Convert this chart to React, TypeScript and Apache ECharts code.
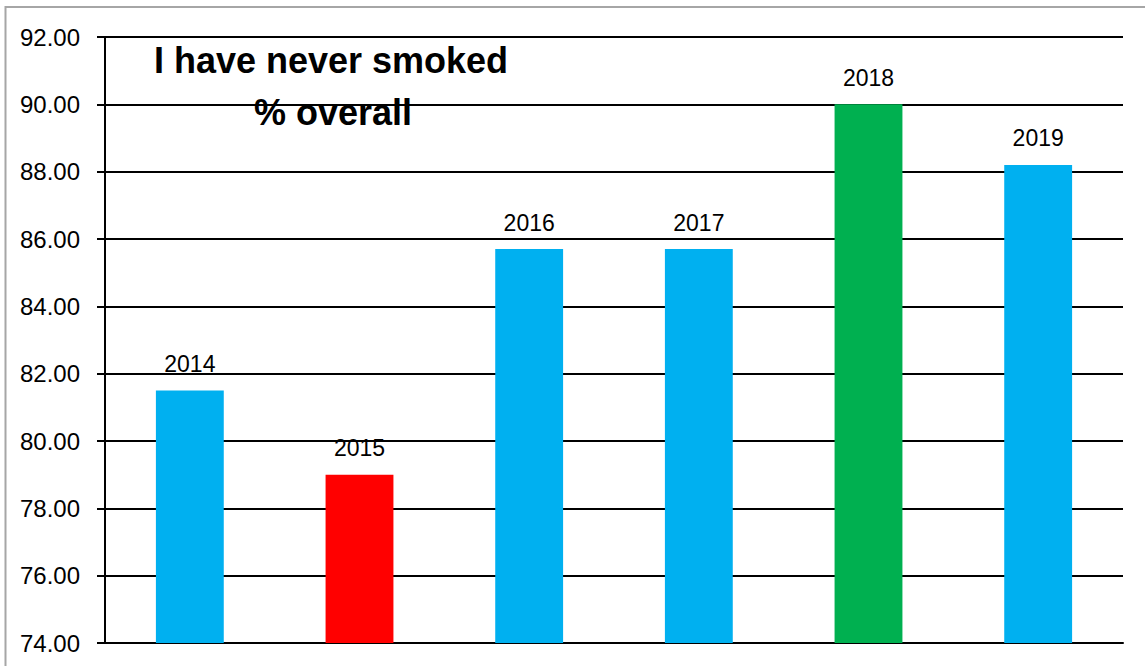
import React, { useEffect, useRef } from "react";
import * as echarts from "echarts";

const categories = ["2014", "2015", "2016", "2017", "2018", "2019"];
const values = [81.5, 79.0, 85.7, 85.7, 90.0, 88.2];
const barColors = ["#00B0F0", "#FF0000", "#00B0F0", "#00B0F0", "#00B050", "#00B0F0"];
const yMin = 74;
const yMax = 92;
const yStep = 2;
const titleLines = ["I have never smoked", "% overall"];

const FONT = "Liberation Sans";

export default function App() {
  const ref = useRef<HTMLDivElement>(null);
  useEffect(() => {
    if (!ref.current) return;
    const chart = echarts.init(ref.current, undefined, { renderer: "svg" });
    chart.setOption({
      animation: false,
      backgroundColor: "#ffffff",
      grid: { left: 105, right: 22, top: 37, bottom: 23, containLabel: false },
      xAxis: {
        type: "category",
        data: categories,
        axisLine: { show: true, lineStyle: { color: "#000", width: 2 } },
        axisTick: { show: false },
        axisLabel: { show: false },
      },
      yAxis: {
        type: "value",
        min: yMin,
        max: yMax,
        interval: yStep,
        axisLine: { show: true, lineStyle: { color: "#000", width: 2 } },
        axisTick: { show: true, inside: false, length: 8, lineStyle: { color: "#000", width: 2 } },
        axisLabel: {
          formatter: (v: number) => v.toFixed(2),
          color: "#000",
          fontFamily: FONT,
          fontSize: 24,
          margin: 25,
          padding: [12, 0, 0, 0],
        },
        splitLine: { show: true, lineStyle: { color: "#000", width: 2 } },
      },
      graphic: [
        {
          type: "rect",
          shape: { x: 5.5, y: 7, width: 1200, height: 700 },
          style: { fill: "none", stroke: "#a6a6a6", lineWidth: 2 },
          silent: true,
          z: -1,
        },
        {
          type: "text",
          x: 331,
          y: 60.5,
          style: {
            text: titleLines[0],
            fill: "#000",
            font: `bold 36px "${FONT}"`,
            align: "center",
            verticalAlign: "middle",
          },
          z: 10,
        },
        {
          type: "text",
          x: 333,
          y: 112.5,
          style: {
            text: titleLines[1],
            fill: "#000",
            font: `bold 36px "${FONT}"`,
            align: "center",
            verticalAlign: "middle",
          },
          z: 10,
        },
      ],
      series: [
        {
          type: "bar",
          barWidth: "40%",
          data: values.map((v, i) => ({ value: v, itemStyle: { color: barColors[i] } })),
          label: {
            show: true,
            position: "top",
            distance: 15,
            formatter: "{b}",
            color: "#000",
            fontFamily: FONT,
            fontSize: 23,
          },
        },
      ],
    });
    return () => chart.dispose();
  }, []);
  return (
    <div
      ref={ref}
      style={{ position: "fixed", left: 0, top: 0, width: 1145, height: 666, background: "#fff" }}
    />
  );
}
